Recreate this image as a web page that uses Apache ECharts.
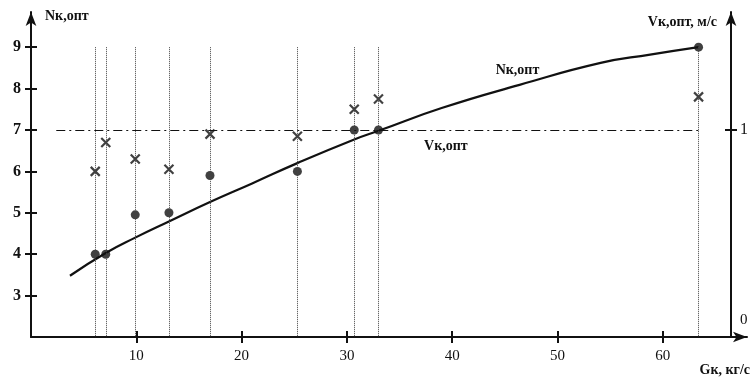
<!DOCTYPE html>
<html>
<head>
<meta charset="utf-8">
<script src="https://cdn.jsdelivr.net/npm/echarts@6/dist/echarts.min.js"></script>
<style>
html, body { margin: 0; background: #fff; }
#chart { width: 756px; height: 379px; }
</style>
</head>
<body>
<div id="chart"></div>
<script>
// measured points, Gk in kg/s
let gk = [6.1, 7.1, 9.9, 13.1, 17.0, 25.3, 30.7, 33.0, 63.4];
let nOpt = [4.0, 4.0, 4.95, 5.0, 5.9, 6.0, 7.0, 7.0, 9.0];
let vOpt = [0.80, 0.94, 0.86, 0.81, 0.98, 0.97, 1.10, 1.15, 1.16];

// fitted Nk,opt curve
let curveG = [3.7, 7.1, 9.9, 13.1, 17.0, 21.0, 25.3, 30.7, 33.0, 39.0, 46.4, 54.1, 58.8, 63.4];
let curveN = [3.48, 4.03, 4.40, 4.79, 5.26, 5.71, 6.2, 6.77, 6.98, 7.53, 8.09, 8.62, 8.82, 9.0];

// Vk,opt level line
let vLevel = 1;
let vLevelFrom = 2.4;
let vLevelTo = 63.4;
let gridTop = 9;

let nTicks = [3, 4, 5, 6, 7, 8, 9];
let gTicks = [10, 20, 30, 40, 50, 60];
let vLabels = [0, 1];
let vTicks = [1];

let font = '"Liberation Serif", "DejaVu Serif", serif';
let ink = '#111';

let chart = echarts.init(document.getElementById('chart'));

let dots = gk.map((g, i) => [g, nOpt[i]]);
let crosses = gk.map((g, i) => [g, vOpt[i]]);
let curve = curveG.map((g, i) => [g, curveN[i]]);
let guides = gk.map(g => [{ coord: [g, gridTop] }, { coord: [g, 2] }]);

function arrowLine() {
    return { show: true, onZero: false, lineStyle: { color: ink, width: 2 }, symbol: ['none', 'arrow'], symbolSize: [8, 14] };
}
function tick(values, inside) {
    return { show: true, inside: inside, length: 6, lineStyle: { color: ink, width: 2 }, customValues: values };
}

let option = {
    animation: false,
    grid: [
        { left: 31, right: 9, top: 12, bottom: 42, containLabel: false, outerBoundsMode: 'none' },
        // second grid only carries the right axis line, its edge sits at Gk = 66.5
        { left: 31, right: 25, top: 12, bottom: 42, containLabel: false, outerBoundsMode: 'none' }
    ],
    xAxis: [
        {
            type: 'value', min: 0, max: 68,
            name: 'Gк, кг/с', nameLocation: 'end', nameGap: 3,
            nameTextStyle: { fontFamily: font, fontSize: 14, fontWeight: 'bold', color: ink,
                align: 'right', verticalAlign: 'top', padding: [26, 0, 0, 0] },
            axisLine: arrowLine(),
            axisTick: tick(gTicks, false),
            axisLabel: { fontFamily: font, fontSize: 15, color: ink, margin: 12, customValues: gTicks },
            splitLine: { show: false }
        },
        {
            type: 'value', min: 0, max: 68, position: 'bottom',
            axisLine: { show: false, onZero: false },
            axisTick: tick(gTicks, true),
            axisLabel: { show: false },
            splitLine: { show: false }
        },
        {
            gridIndex: 1, type: 'value', min: 0, max: 66.5, show: false
        }
    ],
    yAxis: [
        {
            type: 'value', min: 2, max: 9.85, interval: 1, position: 'left',
            name: 'Nк,опт', nameLocation: 'end', nameGap: -4,
            nameTextStyle: { fontFamily: font, fontSize: 14, fontWeight: 'bold', color: ink,
                align: 'left', verticalAlign: 'middle', padding: [0, 0, 0, 14] },
            axisLine: arrowLine(),
            axisTick: tick(nTicks, false),
            axisLabel: { fontFamily: font, fontSize: 16, fontWeight: 'bold', color: ink, margin: 10, customValues: nTicks },
            splitLine: { show: false }
        },
        {
            type: 'value', min: 0, max: 1.57, position: 'right', offset: -16,
            name: 'Vк,опт, м/с', nameLocation: 'end', nameGap: -10,
            nameTextStyle: { fontFamily: font, fontSize: 14, fontWeight: 'bold', color: ink,
                align: 'right', verticalAlign: 'middle', padding: [0, 14, 0, 0] },
            axisLine: { show: false, onZero: false },
            axisTick: tick(vTicks, false),
            axisLabel: {
                fontFamily: font, fontSize: 16, color: ink, margin: 9, customValues: vLabels,
                formatter: v => v === 0 ? '{z|0}' : String(v),
                rich: { z: { fontFamily: font, fontSize: 15, color: ink, padding: [0, 0, 34, 0] } }
            },
            splitLine: { show: false }
        },
        {
            type: 'value', min: 2, max: 9.85, interval: 1, position: 'left',
            axisLine: { show: false, onZero: false },
            axisTick: tick(nTicks, true),
            axisLabel: { show: false },
            splitLine: { show: false }
        },
        {
            gridIndex: 1, type: 'value', min: 0, max: 1.57, position: 'right',
            axisLine: arrowLine(),
            axisTick: tick(vTicks, true),
            axisLabel: { show: false },
            splitLine: { show: false }
        }
    ],
    series: [
        {
            name: 'Nк,опт кривая',
            type: 'line',
            smooth: 0.5,
            showSymbol: false,
            data: curve,
            lineStyle: { color: ink, width: 2.2 },
            markPoint: {
                symbol: 'circle', symbolSize: 0,
                label: { show: true, formatter: 'Nк,опт', fontFamily: font, fontSize: 14, fontWeight: 'bold', color: ink },
                data: [{ coord: [46.2, 8.45] }]
            }
        },
        {
            name: 'Nк,опт',
            type: 'scatter',
            symbol: 'circle',
            symbolSize: 9,
            itemStyle: { color: ink },
            data: dots,
            z: 3,
            markLine: {
                silent: true, symbol: ['none', 'none'], label: { show: false },
                lineStyle: { color: '#444', width: 1, type: [1, 1] },
                data: guides
            }
        },
        {
            name: 'Vк,опт',
            type: 'scatter',
            yAxisIndex: 1,
            symbol: 'path://M0,0L10,10M10,0L0,10',
            symbolSize: 9,
            itemStyle: { color: ink, borderColor: ink, borderWidth: 2.2 },
            data: crosses,
            markLine: {
                silent: true, symbol: ['none', 'none'],
                label: { show: false },
                lineStyle: { color: ink, width: 1.2, type: [9, 4, 2, 4] },
                data: [[{ coord: [vLevelFrom, vLevel] }, { coord: [vLevelTo, vLevel] }]]
            },
            markPoint: {
                symbol: 'circle', symbolSize: 0,
                label: { show: true, formatter: 'Vк,опт', fontFamily: font, fontSize: 14, fontWeight: 'bold', color: ink },
                data: [{ coord: [39.4, 0.92] }]
            }
        }
    ]
};

chart.setOption(option);
</script>
</body>
</html>
